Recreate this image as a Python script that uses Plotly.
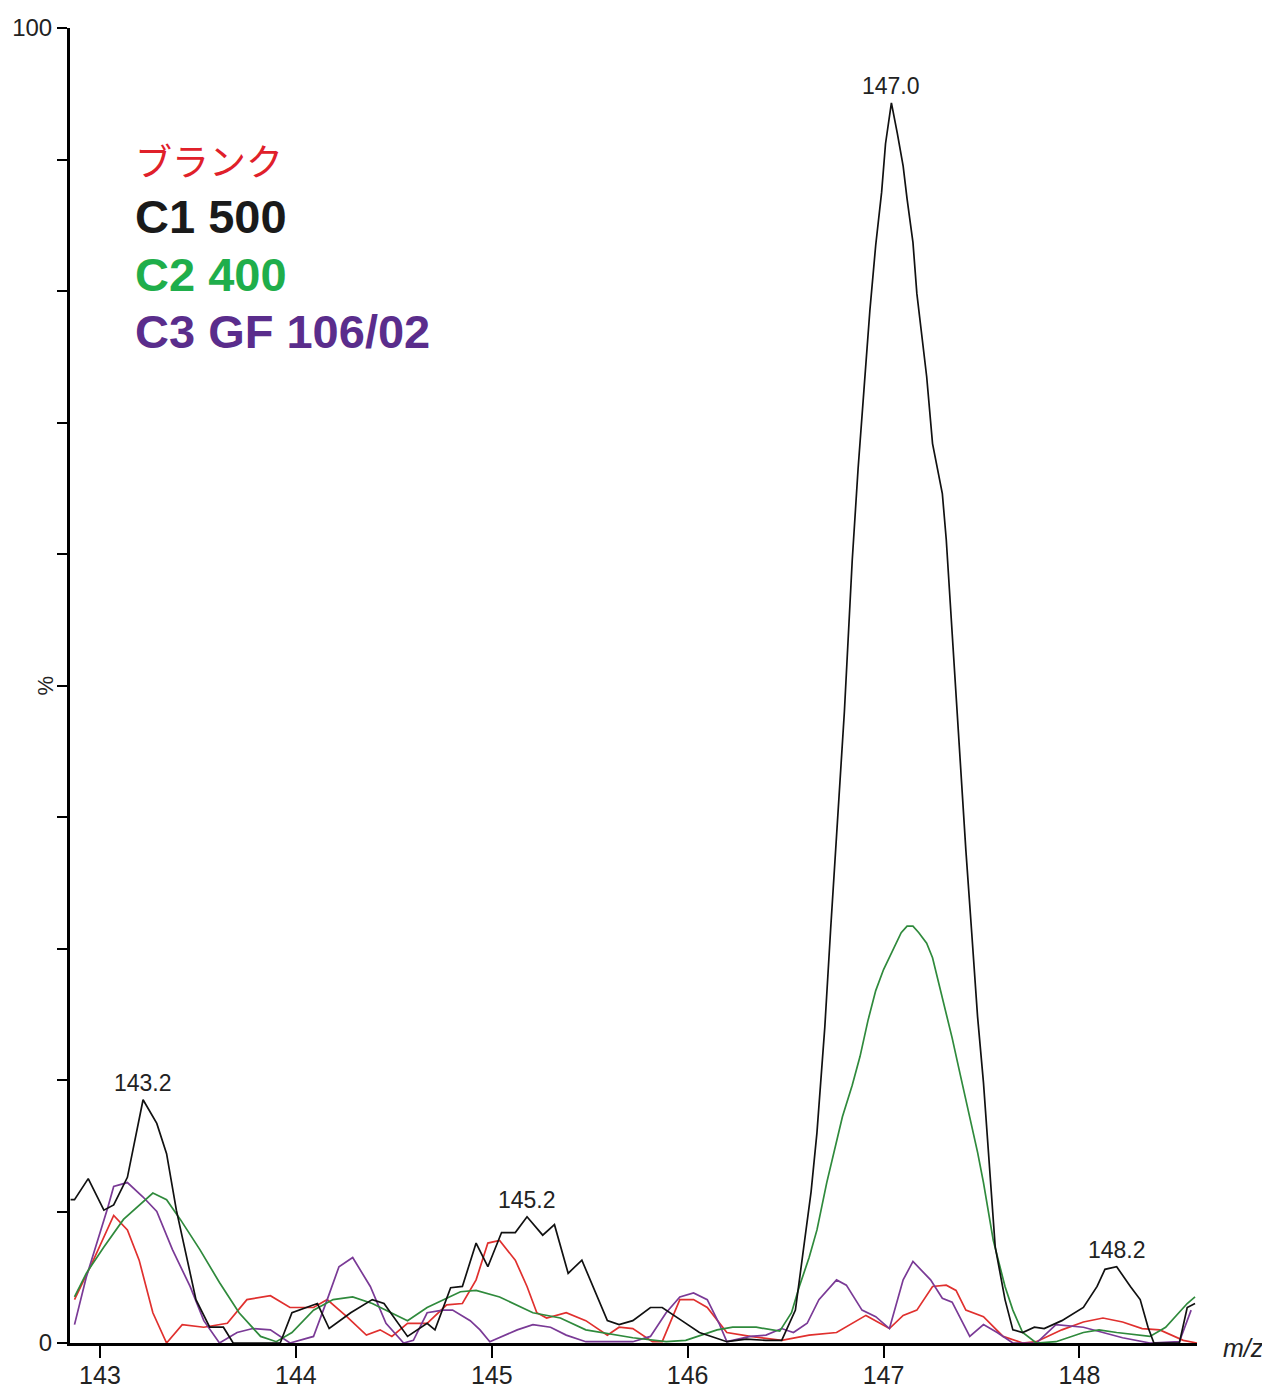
import plotly.graph_objects as go

# ---- data (m/z, % intensity) ----
mz_blank = [142.87, 142.96, 143.07, 143.14, 143.20, 143.27, 143.34, 143.42, 143.53, 143.65, 143.75, 143.87,
            143.97, 144.09, 144.16, 144.26, 144.36, 144.43, 144.49, 144.57, 144.67, 144.77, 144.85, 144.92,
            144.98, 145.04, 145.12, 145.18, 145.23, 145.28, 145.38, 145.48, 145.59, 145.65, 145.72, 145.82,
            145.87, 145.96, 146.03, 146.10, 146.20, 146.32, 146.48, 146.62, 146.76, 146.91, 147.03, 147.10,
            147.17, 147.25, 147.32, 147.37, 147.42, 147.51, 147.61, 147.71, 147.78, 147.91, 148.02, 148.12,
            148.22, 148.32, 148.41, 148.53, 148.60]
int_blank = [3.3, 6.1, 9.7, 8.6, 6.3, 2.3, 0.0, 1.4, 1.2, 1.5, 3.3, 3.6,
             2.7, 2.7, 3.3, 2.0, 0.6, 1.0, 0.5, 1.5, 1.5, 2.9, 3.0, 4.8,
             7.6, 7.8, 6.3, 4.3, 2.3, 1.9, 2.3, 1.7, 0.6, 1.2, 1.1, 0.1,
             0.1, 3.3, 3.3, 2.7, 0.8, 0.5, 0.2, 0.6, 0.8, 2.1, 1.1, 2.1,
             2.5, 4.3, 4.4, 4.0, 2.5, 2.0, 0.5, 0.0, 0.1, 1.0, 1.6, 1.9,
             1.6, 1.1, 1.0, 0.2, 0.0]

mz_c1 = [142.85, 142.87, 142.94, 143.02, 143.07, 143.14, 143.22, 143.29, 143.34, 143.39, 143.49, 143.56,
         143.63, 143.68, 143.92, 143.98, 144.11, 144.17, 144.28, 144.39, 144.45, 144.57, 144.67, 144.71,
         144.79, 144.85, 144.92, 144.98, 145.05, 145.12, 145.18, 145.26, 145.32, 145.39, 145.46, 145.59,
         145.65, 145.72, 145.81, 145.87, 145.97, 146.06, 146.14, 146.20, 146.30, 146.40, 146.48, 146.55,
         146.59, 146.63, 146.66, 146.70, 146.73, 146.76, 146.80, 146.84, 146.87, 146.90, 146.93, 146.96,
         146.99, 147.01, 147.04, 147.07, 147.10, 147.12, 147.15, 147.17, 147.20, 147.22, 147.25, 147.30,
         147.32, 147.37, 147.42, 147.45, 147.48, 147.51, 147.54, 147.57, 147.62, 147.66, 147.71, 147.77,
         147.82, 147.91, 148.02, 148.09, 148.13, 148.19, 148.26, 148.31, 148.35, 148.38, 148.51, 148.55,
         148.59]
int_c1 = [10.9, 10.9, 12.5, 10.1, 10.5, 12.6, 18.5, 16.7, 14.4, 10.1, 3.3, 1.2,
          1.2, 0.0, 0.0, 2.3, 3.0, 1.1, 2.3, 3.3, 3.0, 0.5, 1.5, 1.0,
          4.2, 4.3, 7.6, 5.8, 8.4, 8.4, 9.6, 8.2, 9.0, 5.3, 6.3, 1.7,
          1.4, 1.7, 2.7, 2.7, 1.7, 0.8, 0.4, 0.1, 0.3, 0.2, 0.2, 2.5,
          7.0, 11.5, 16.0, 24.0, 31.5, 38.5, 48.0, 59.5, 66.5, 72.5, 78.5, 83.5,
          87.5, 91.2, 94.3, 92.0, 89.5, 87.0, 83.7, 79.8, 76.0, 73.5, 68.4, 64.6,
          61.1, 49.0, 37.5, 31.2, 24.8, 19.8, 13.4, 7.3, 3.3, 1.0, 0.8, 1.2,
          1.1, 1.7, 2.7, 4.3, 5.6, 5.8, 4.3, 3.3, 1.2, 0.0, 0.0, 2.7,
          3.0]

mz_c2 = [142.87, 142.93, 143.02, 143.12, 143.27, 143.34, 143.41, 143.51, 143.61, 143.71, 143.82, 143.90,
         143.98, 144.09, 144.19, 144.29, 144.39, 144.49, 144.57, 144.67, 144.84, 144.92, 145.04, 145.21,
         145.35, 145.48, 145.72, 145.89, 145.99, 146.15, 146.23, 146.35, 146.47, 146.53, 146.57, 146.62,
         146.66, 146.71, 146.75, 146.79, 146.84, 146.88, 146.92, 146.96, 147.00, 147.05, 147.09, 147.12,
         147.15, 147.18, 147.22, 147.25, 147.28, 147.31, 147.35, 147.39, 147.44, 147.48, 147.51, 147.56,
         147.62, 147.66, 147.71, 147.78, 147.88, 148.02, 148.10, 148.19, 148.36, 148.44, 148.55, 148.59]
int_c2 = [3.5, 5.3, 7.3, 9.4, 11.4, 10.9, 9.4, 7.1, 4.6, 2.3, 0.5, 0.1,
          0.8, 2.5, 3.3, 3.5, 3.0, 2.3, 1.7, 2.7, 3.9, 4.0, 3.5, 2.3,
          1.9, 1.0, 0.4, 0.1, 0.2, 1.0, 1.2, 1.2, 0.9, 2.3, 4.3, 6.5,
          8.6, 12.2, 14.8, 17.2, 19.6, 21.8, 24.5, 26.8, 28.4, 29.9, 31.2, 31.7,
          31.7, 31.2, 30.4, 29.3, 27.5, 25.5, 23.2, 20.5, 17.2, 14.5, 12.2, 7.8,
          4.3, 2.5, 0.8, 0.0, 0.1, 0.8, 1.0, 0.8, 0.5, 1.2, 3.0, 3.5]

mz_c3 = [142.87, 142.93, 143.04, 143.07, 143.14, 143.22, 143.29, 143.37, 143.46, 143.53, 143.61, 143.70,
         143.78, 143.87, 143.97, 144.09, 144.16, 144.22, 144.29, 144.38, 144.46, 144.55, 144.60, 144.67,
         144.75, 144.80, 144.89, 144.94, 144.99, 145.04, 145.13, 145.21, 145.30, 145.38, 145.48, 145.72,
         145.81, 145.89, 145.96, 146.03, 146.10, 146.16, 146.20, 146.32, 146.40, 146.48, 146.54, 146.61,
         146.67, 146.76, 146.81, 146.89, 146.96, 147.03, 147.10, 147.15, 147.24, 147.30, 147.35, 147.44,
         147.51, 147.58, 147.66, 147.78, 147.88, 148.02, 148.12, 148.22, 148.36, 148.51, 148.57]
int_c3 = [1.4, 5.0, 10.3, 11.9, 12.2, 11.1, 10.0, 7.1, 4.3, 1.7, 0.0, 0.8,
          1.1, 1.0, 0.0, 0.5, 3.3, 5.8, 6.5, 4.3, 1.5, 0.0, 0.2, 2.3,
          2.5, 2.5, 1.7, 1.0, 0.1, 0.4, 1.0, 1.4, 1.2, 0.6, 0.1, 0.1,
          0.5, 2.3, 3.5, 3.8, 3.3, 1.5, 0.1, 0.5, 0.6, 1.1, 0.8, 1.5,
          3.3, 4.8, 4.4, 2.5, 2.0, 1.1, 4.8, 6.2, 4.8, 3.4, 3.1, 0.5,
          1.4, 0.8, 0.0, 0.0, 1.4, 1.2, 0.8, 0.4, 0.0, 0.1, 2.5]

peak_labels = ["143.2", "145.2", "147.0", "148.2"]
peak_x = [143.22, 145.18, 147.04, 148.19]
peak_y = [18.5, 9.6, 94.3, 5.8]

legend_names = ["ブランク", "C1 500", "C2 400", "C3 GF 106/02"]
legend_colors = ["#e0202a", "#1a1a1a", "#1fae4b", "#5a2d8c"]

x_ticks = [143, 144, 145, 146, 147, 148]
y_ticks = [0, 10, 20, 30, 40, 50, 60, 70, 80, 90, 100]
y_ticktext = ["0", "", "", "", "", "", "", "", "", "", "100"]

# ---- layout geometry (page pixels; page body has an 8px default margin) ----
OFF = 8
W, H = 1270 - OFF, 1390 - OFF
plot_l, plot_r, plot_t, plot_b = 70, 1197, 28, 1343   # page coords
ml, mt = plot_l - OFF, plot_t - OFF
mr, mb = W - (plot_r - OFF), H - (plot_b - OFF)
pw, ph = plot_r - plot_l, plot_b - plot_t

fig = go.Figure()
series = [
    (mz_blank, int_blank, "#e0302e"),
    (mz_c3, int_c3, "#7a3a96"),
    (mz_c2, int_c2, "#2f8a3c"),
    (mz_c1, int_c1, "#111111"),
]
for xs, ys, col in series:
    fig.add_trace(go.Scatter(x=xs, y=ys, mode="lines",
                             line=dict(color=col, width=1.7),
                             showlegend=False, hoverinfo="skip"))

for t, x, y in zip(peak_labels, peak_x, peak_y):
    fig.add_annotation(x=x, y=y, text=t, showarrow=False, yanchor="bottom",
                       yshift=2, font=dict(family="Liberation Sans, Arial", size=23, color="#222"))

# legend text block (page pixel positions -> paper coords)
for i, (name, col) in enumerate(zip(legend_names, legend_colors)):
    fam = "Noto Sans CJK JP" if i == 0 else "Liberation Sans, Arial"
    txt = name if i == 0 else "<b>" + name + "</b>"
    px, py = 133, 160 + 57 * i
    fig.add_annotation(x=(px - plot_l) / pw, y=1 - (py - plot_t) / ph, xref="paper", yref="paper",
                       text=txt, showarrow=False, xanchor="left", yanchor="middle",
                       font=dict(family=fam, size=37 if i == 0 else 47, color=col))

fig.add_annotation(x=(45 - plot_l) / pw, y=50, xref="paper", yref="y", text="%", textangle=-90,
                   xanchor="center", yanchor="middle", showarrow=False,
                   font=dict(family="Liberation Sans, Arial", size=22, color="#222"))
fig.add_annotation(x=(1221 - plot_l) / pw, y=0, xref="paper", yref="y", text="<i>m/z</i>",
                   xanchor="left", yanchor="middle", showarrow=False, yshift=-5,
                   font=dict(family="Liberation Sans, Arial", size=25, color="#222"))

fig.update_layout(
    width=W, height=H,
    margin=dict(l=ml, r=mr, t=mt, b=mb, autoexpand=False),
    paper_bgcolor="white", plot_bgcolor="white",
    xaxis=dict(range=[142.847, 148.6], tickvals=x_ticks, ticks="outside", ticklen=12,
               tickwidth=2, tickcolor="black", showline=True, linewidth=3, linecolor="black",
               showgrid=False, zeroline=False, automargin=False, ticklabelstandoff=-4,
               tickfont=dict(family="Liberation Sans, Arial", size=25, color="#222")),
    yaxis=dict(range=[0, 100], tickvals=y_ticks, ticktext=y_ticktext, ticks="outside",
               ticklen=10, tickwidth=2, tickcolor="black", showline=True, linewidth=3,
               linecolor="black", showgrid=False, zeroline=False, automargin=False,
               tickfont=dict(family="Liberation Sans, Arial", size=24, color="#222")),
)

fig.write_html("out.html")
